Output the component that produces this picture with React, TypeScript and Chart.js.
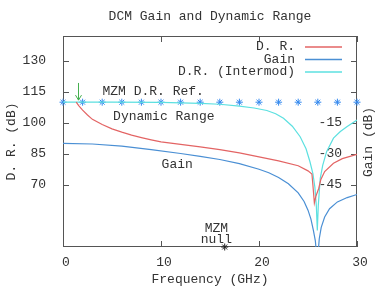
import React, { useEffect, useRef } from 'react';
import { Chart, registerables } from 'chart.js';

Chart.register(...registerables);

const FONT = '"Liberation Mono", "DejaVu Sans Mono", monospace';
const TEXT = '#333333';
const BORDER = '#555555';
const RED = '#e36464';
const BLUE = '#4a8fd4';
const CYAN = '#5ce0e0';
const STAR = '#3388ee';
const GREEN = '#45b04f';

// D.R. (left axis, dB)
const drFreq = [1.35, 1.6, 2.0, 2.5, 3.0, 4.0, 5.0, 6.0, 7.0, 8.0, 9.0, 10.0, 12.0, 14.0, 16.0, 18.0, 20.0, 22.0, 24.0, 25.0, 25.4, 25.5, 25.65, 25.8, 26.1, 26.3, 26.7, 27.6, 28.5, 30.0];
const drValue = [110.0, 108.3, 106.2, 103.8, 101.7, 99.2, 97.1, 95.5, 94.1, 92.9, 91.8, 90.8, 89.6, 88.4, 87.1, 85.5, 83.6, 81.6, 79.3, 76.8, 75.3, 70.0, 61.3, 64.5, 68.4, 72.5, 76.5, 80.5, 82.7, 84.8];

// Gain (right axis, dB)
const gainFreq = [0, 3, 6, 9, 12, 14, 16, 18, 20, 21, 22, 23, 24, 24.6, 25.0, 25.3, 25.55, 25.75, 25.9, 26.0, 26.15, 26.35, 26.7, 27.2, 28.0, 29.0, 30.0];
const gainValue = [-24.9, -25.2, -26.2, -27.9, -29.8, -31.2, -32.7, -34.7, -37.4, -39.1, -41.4, -44.4, -48.8, -53.0, -57.2, -61.5, -67, -72, -80, -80, -71, -65.5, -60.5, -56.5, -53.2, -51.1, -49.6];

// D.R. (Intermod) (left axis, dB)
const interFreq = [0, 5, 10, 12, 14, 16, 18, 19.5, 20.8, 21.7, 22.5, 23.4, 24.2, 24.8, 25.2, 25.5, 25.7, 25.85, 25.95, 26.05, 26.25, 26.5, 26.9, 27.6, 28.3, 29.0, 30.0];
const interValue = [110, 110, 109.9, 109.7, 109.4, 109.0, 108.1, 107.2, 106.0, 104.4, 102.2, 98.4, 93.3, 87.5, 81.2, 75.5, 69.0, 60.0, 48.0, 60.0, 73.2, 79.5, 86.1, 92.6, 95.8, 98.2, 101.4];

// MZM D.R. reference markers
const refFreq = [0, 2, 4, 6, 8, 10, 12, 14, 16, 18, 20, 22, 24, 26, 28, 30];
const refValue = [110, 110, 110, 110, 110, 110, 110, 110, 110, 110, 110, 110, 110, 110, 110, 110];

// MZM null marker
const nullFreq = [16.5];
const nullValue = [40];

const xTicks = [0, 10, 20, 30];
const yTicks = [70, 85, 100, 115, 130];
const y2Ticks = [-15, -30, -45];

const legendItems = [
  { label: 'D. R.', color: RED },
  { label: 'Gain', color: BLUE },
  { label: 'D.R. (Intermod)', color: CYAN },
];

const pts = (xs: number[], ys: number[]) => xs.map((x, i) => ({ x, y: ys[i] }));

const decor = {
  id: 'gnuplotDecor',
  beforeDatasetsDraw(chart: any) {
    const { ctx, chartArea: a, scales } = chart;
    const L = Math.round(a.left), R = Math.round(a.right), T = Math.round(a.top), B = Math.round(a.bottom);
    ctx.save();
    ctx.strokeStyle = BORDER;
    ctx.lineWidth = 1;
    ctx.strokeRect(L + 0.5, T + 0.5, R - L - 1, B - T - 1);
    ctx.beginPath();
    yTicks.forEach((v) => {
      const y = Math.round(scales.y.getPixelForValue(v)) + 0.5;
      ctx.moveTo(L, y); ctx.lineTo(L + 6, y);
      ctx.moveTo(R, y); ctx.lineTo(R - 6, y);
    });
    y2Ticks.forEach((v) => {
      const y = Math.round(scales.y2.getPixelForValue(v)) + 0.5;
      ctx.moveTo(R, y); ctx.lineTo(R - 6, y);
    });
    xTicks.forEach((v) => {
      const x = Math.round(scales.x.getPixelForValue(v)) + 0.5;
      ctx.moveTo(x, B); ctx.lineTo(x, B - 6);
      ctx.moveTo(x, T); ctx.lineTo(x, T + 6);
    });
    ctx.stroke();
    ctx.restore();
  },
  afterDatasetsDraw(chart: any) {
    const { ctx, chartArea: a, scales } = chart;
    const sx = (v: number) => scales.x.getPixelForValue(v);
    const sy = (v: number) => scales.y.getPixelForValue(v);
    ctx.save();
    ctx.font = `13px ${FONT}`;
    ctx.fillStyle = TEXT;
    ctx.textBaseline = 'middle';

    // title
    ctx.textAlign = 'center';
    ctx.fillText('DCM Gain and Dynamic Range', (a.left + a.right) / 2, 17);

    // annotations
    ctx.textAlign = 'left';
    ctx.fillText('MZM D.R. Ref.', sx(4.03), sy(115.1));
    ctx.fillText('Dynamic Range', sx(5.11), sy(103.0));
    ctx.fillText('Gain', sx(10.06), sy(80.0));
    ctx.textAlign = 'center';
    ctx.fillText('MZM', sx(15.65), sy(49.0));
    ctx.fillText('null', sx(15.65), sy(43.8));

    // legend
    legendItems.forEach((it, i) => {
      const y = 47 + i * 12.5;
      ctx.textAlign = 'right';
      ctx.fillStyle = TEXT;
      ctx.fillText(it.label, 295, y);
      ctx.strokeStyle = it.color;
      ctx.lineWidth = 1.5;
      ctx.beginPath();
      ctx.moveTo(305, y);
      ctx.lineTo(342, y);
      ctx.stroke();
    });

    // right axis title
    ctx.save();
    ctx.translate(369, 142);
    ctx.rotate(-Math.PI / 2);
    ctx.textAlign = 'center';
    ctx.fillStyle = TEXT;
    ctx.fillText('Gain (dB)', 0, 0);
    ctx.restore();

    // arrow
    const ax = Math.round(sx(1.55)) + 0.5;
    const y0 = sy(119.3), y1 = sy(111.0);
    ctx.strokeStyle = GREEN;
    ctx.lineWidth = 1;
    ctx.beginPath();
    ctx.moveTo(ax, y0); ctx.lineTo(ax, y1);
    ctx.moveTo(ax - 3, y1 - 5); ctx.lineTo(ax, y1); ctx.lineTo(ax + 3, y1 - 5);
    ctx.stroke();
    ctx.restore();
  },
};

export default function App() {
  const ref = useRef<HTMLCanvasElement>(null);
  useEffect(() => {
    if (!ref.current) return;
    const tickFont = { family: FONT, size: 13 };
    const chart = new Chart(ref.current, {
      type: 'line',
      data: {
        datasets: [
          { label: 'D. R.', data: pts(drFreq, drValue), borderColor: RED, borderWidth: 1.2, pointRadius: 0, yAxisID: 'y' },
          { label: 'Gain', data: pts(gainFreq, gainValue), borderColor: BLUE, borderWidth: 1.2, pointRadius: 0, yAxisID: 'y2' },
          { label: 'D.R. (Intermod)', data: pts(interFreq, interValue), borderColor: CYAN, borderWidth: 1.2, pointRadius: 0, yAxisID: 'y' },
          { label: 'MZM D.R. Ref.', data: pts(refFreq, refValue), showLine: false, pointStyle: 'star', pointRadius: 3.5, pointBorderColor: STAR, pointBackgroundColor: STAR, pointBorderWidth: 1, yAxisID: 'y', clip: false } as any,
          { label: 'MZM null', data: pts(nullFreq, nullValue), showLine: false, pointStyle: 'star', pointRadius: 3.5, pointBorderColor: '#222', pointBackgroundColor: '#222', pointBorderWidth: 1, yAxisID: 'y', clip: false } as any,
        ],
      },
      options: {
        animation: false,
        responsive: false,
        layout: { padding: { top: 36, left: 0, right: 0, bottom: 0 } },
        plugins: { legend: { display: false }, title: { display: false }, tooltip: { enabled: false } },
        scales: {
          x: {
            type: 'linear', position: 'bottom', min: 0, max: 30,
            grid: { display: false }, border: { display: false },
            afterBuildTicks: (s: any) => { s.ticks = xTicks.map((v) => ({ value: v })); },
            afterFit: (s: any) => { s.height = 39; },
            ticks: { font: tickFont, color: TEXT, padding: 0, labelOffset: 3, maxRotation: 0, autoSkip: false },
            title: { display: true, text: 'Frequency (GHz)', font: { family: FONT, size: 13, lineHeight: 1 }, color: TEXT, padding: { top: 0, bottom: 0 } },
          },
          y: {
            type: 'linear', position: 'left', min: 40, max: 142,
            grid: { display: false }, border: { display: false },
            afterBuildTicks: (s: any) => { s.ticks = yTicks.map((v) => ({ value: v })); },
            afterFit: (s: any) => { s.width = 63; },
            ticks: { font: tickFont, color: TEXT, padding: 9, autoSkip: false },
            title: { display: true, text: 'D. R. (dB)', font: { family: FONT, size: 13, lineHeight: 1 }, color: TEXT, padding: { top: 5.5, bottom: 0 } },
          },
          y2: {
            type: 'linear', position: 'right', min: -75, max: 27,
            grid: { display: false }, border: { display: false },
            afterBuildTicks: (s: any) => { s.ticks = y2Ticks.map((v) => ({ value: v })); },
            afterFit: (s: any) => { s.width = 26; },
            ticks: { font: tickFont, color: TEXT, padding: -15, mirror: true, autoSkip: false },
          },
        },
      },
      plugins: [decor],
    } as any);
    return () => chart.destroy();
  }, []);
  return (
    <canvas ref={ref} width={383} height={286} style={{ position: 'absolute', left: 0, top: 0, width: 383, height: 286 }} />
  );
}
